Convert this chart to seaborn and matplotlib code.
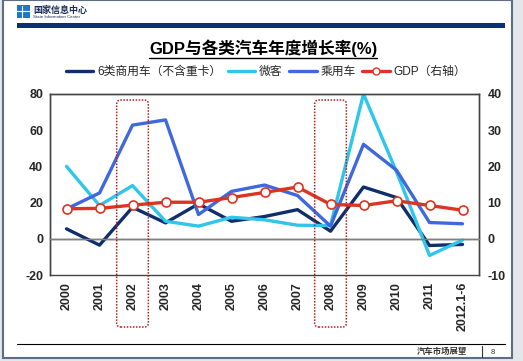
import numpy as np
import pandas as pd
import seaborn as sns
import matplotlib.pyplot as plt
from matplotlib.lines import Line2D
from matplotlib.patches import Rectangle, FancyBboxPatch
from matplotlib.transforms import IdentityTransform

# data
years = ['2000', '2001', '2002', '2003', '2004', '2005', '2006',
         '2007', '2008', '2009', '2010', '2011', '2012.1-6']
commercial = [5.5, -3.5, 17.4, 8.8, 19.3, 9.7, 12.3, 16.1, 4.2, 28.6, 22.8, -3.7, -3.1]
microbus = [40.0, 18.4, 29.4, 9.7, 7.0, 11.9, 10.5, 7.5, 7.3, 80.0, 37.0, -9.2, -0.7]
passenger = [16.5, 25.3, 62.8, 65.7, 13.4, 26.2, 29.7, 23.9, 7.0, 52.2, 37.9, 9.0, 8.3]
gdp = [8.3, 8.4, 9.3, 10.1, 10.1, 11.4, 12.8, 14.3, 9.5, 9.2, 10.5, 9.2, 7.9]

series_names = ['6类商用车（不含重卡）', '微客', '乘用车']
gdp_name = 'GDP（右轴）'
highlight_years = ['2002', '2008']
left_ticks = [-20, 0, 20, 40, 60, 80]
right_ticks = [-10, 0, 10, 20, 30, 40]

colors = {series_names[0]: '#0e2f6b', series_names[1]: '#2ec6ea', series_names[2]: '#3f68de'}
gdp_color = '#dd3322'

W, H = 523, 361


def fx(x):
    return x / W


def fy(y):
    return 1 - y / H


sns.set_theme(style='white')
plt.rcParams['font.family'] = ['Liberation Sans', 'Noto Sans CJK SC', 'DejaVu Sans']
plt.rcParams['axes.grid'] = False

fig = plt.figure(figsize=(W / 100, H / 100), dpi=100)
fig.patch.set_facecolor('#e3e6eb')
fig.patches.append(Rectangle((fx(3), fy(358)), fx(509), 358 / H, transform=fig.transFigure,
                             facecolor='white', edgecolor='#5d6d84', lw=1.5, zorder=-5))

# header
fig.patches.append(Rectangle((fx(17), fy(18)), fx(13), 13 / H, transform=fig.transFigure,
                             facecolor='#2276c8', edgecolor='none'))
fig.lines.append(Line2D([fx(22), fx(22)], [fy(6), fy(18)], transform=fig.transFigure, color='white', lw=0.8))
fig.lines.append(Line2D([fx(17), fx(30)], [fy(11), fy(11)], transform=fig.transFigure, color='white', lw=0.8))
fig.text(fx(33), fy(10), '国家信息中心', fontsize=6.5, fontweight='bold', color='#1c2c5c', va='center')
fig.text(fx(33), fy(17.5), 'State Information Center', fontsize=3.2, color='#1c2c5c', va='center')
fig.patches.append(Rectangle((fx(17), fy(27.5)), fx(488), 4.5 / H, transform=fig.transFigure,
                             facecolor='#0b2f72', edgecolor='none'))

# plot area
ax = fig.add_axes([fx(50), fy(275), fx(429), (275 - 94) / H])
pos = np.arange(len(years))
df = pd.DataFrame({'pos': pos, series_names[0]: commercial,
                   series_names[1]: microbus, series_names[2]: passenger})
long = df.melt(id_vars='pos', var_name='series', value_name='value')
sns.lineplot(data=long, x='pos', y='value', hue='series', hue_order=series_names,
             palette=colors, lw=2.4, ax=ax, legend=False, sort=False)

ax2 = ax.twinx()
sns.lineplot(x=pos, y=gdp, color=gdp_color, lw=2.4, marker='o', markersize=6.5,
             markerfacecolor='white', markeredgecolor=gdp_color, markeredgewidth=1.2,
             ax=ax2, legend=False)

ax.set_xlim(-0.5, len(years) - 0.5)
ax.set_ylim(-20, 80)
ax2.set_ylim(-10, 40)
ax.set_xlabel('')
ax.set_ylabel('')
ax2.set_ylabel('')

ax.set_xticks(pos, years, rotation=90, fontsize=9, fontweight='bold')
ax.set_xticks(np.arange(0.5, len(years) - 1, 1), minor=True)
ax.set_yticks(left_ticks, [str(v) for v in left_ticks], fontsize=9, fontweight='bold')
ax2.set_yticks(right_ticks, [str(v) for v in right_ticks], fontsize=9, fontweight='bold')
ax.tick_params(axis='x', which='both', length=0, pad=5)
ax.tick_params(axis='y', length=0, pad=5)
ax2.tick_params(axis='y', length=0, pad=6)
for a in (ax, ax2):
    for sp in a.spines.values():
        sp.set_color('#444444')
        sp.set_linewidth(1.0)

# zero line with category boundary ticks: ax2's bottom spine moved to 0
ax.axhline(0, color='#444444', lw=1.0, zorder=0.5)
ax2.spines['bottom'].set_position(('data', 0))
ax2.spines['bottom'].set_color('#808080')
ax2.tick_params(axis='x', which='major', bottom=False, labelbottom=False)
ax2.tick_params(axis='x', which='minor', bottom=True, direction='in', length=3, width=0.8,
                color='#555555', labelbottom=False)

for a in (ax, ax2):
    a.grid(False, which='both')

# dotted highlight boxes
for yr in highlight_years:
    i = years.index(yr)
    x0 = ax.transData.transform((i - 0.48, 0))[0]
    x1 = ax.transData.transform((i + 0.48, 0))[0]
    box = FancyBboxPatch((x0, H - 327), x1 - x0, 227, boxstyle='round,pad=0,rounding_size=4',
                         transform=IdentityTransform(), fill=False, edgecolor='#b02020',
                         linestyle=(0, (1, 1)), lw=1.1, zorder=5)
    fig.patches.append(box)

# title with underline
title = fig.text(fx(263), fy(48), 'GDP与各类汽车年度增长率(%)', ha='center', va='center',
                 fontsize=12, fontweight='bold', color='black')
renderer = fig.canvas.get_renderer()
bb = title.get_window_extent(renderer)
fig.lines.append(Line2D([bb.x0, bb.x1], [bb.y0 - 1, bb.y0 - 1], transform=IdentityTransform(),
                        color='black', lw=1.0))

# legend
handles = [Line2D([], [], color=colors[n], lw=2.4) for n in series_names]
handles.append(Line2D([], [], color=gdp_color, lw=2.4, marker='o', markersize=5,
                      markerfacecolor='white', markeredgecolor=gdp_color))
fig.legend(handles, series_names + [gdp_name], loc='center', bbox_to_anchor=(fx(266), fy(72)),
           ncol=4, frameon=False, fontsize=8.5, handlelength=2.3, columnspacing=0.6,
           handletextpad=0.3)

# footer
fig.lines.append(Line2D([fx(17), fx(505)], [fy(344), fy(344)], transform=fig.transFigure,
                        color='black', lw=0.8))
fig.text(fx(467), fy(352), '汽车市场展望', ha='right', va='center', fontsize=6,
         fontweight='bold', color='#333333')
fig.lines.append(Line2D([fx(482), fx(482)], [fy(346), fy(357)], transform=fig.transFigure,
                        color='#333333', lw=0.8))
fig.text(fx(493), fy(352), '8', ha='center', va='center', fontsize=5.5, color='#333333')

fig.savefig('out.png', dpi=100, facecolor=fig.get_facecolor())
